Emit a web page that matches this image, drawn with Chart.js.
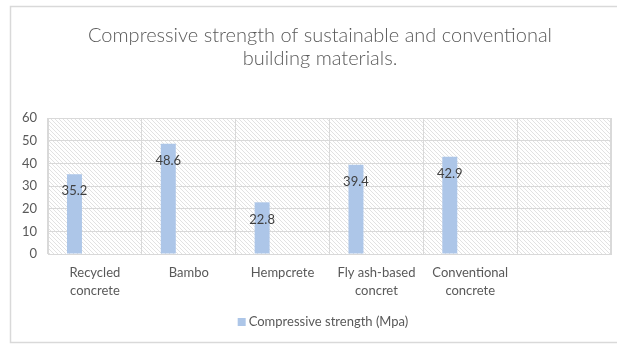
<!DOCTYPE html>
<html>
<head>
<meta charset="utf-8">
<script src="https://cdn.jsdelivr.net/npm/chart.js@4.4.1/dist/chart.umd.min.js"></script>
<style>
  html, body { margin: 0; padding: 0; background: #fff; overflow: hidden; }
  #wrap { position: relative; width: 617px; height: 344px; }
</style>
</head>
<body>
<div id="wrap"><canvas id="strength-chart" width="617" height="344"></canvas></div>
<script>
const titleLines = ["Compressive strength of sustainable and conventional", "building materials."];
const categories = [["Recycled", "concrete"], "Bambo", "Hempcrete", ["Fly ash-based", "concret"], ["Conventional", "concrete"], ""];
const strengthValues = [35.2, 48.6, 22.8, 39.4, 42.9, null];
const seriesName = "Compressive strength (Mpa)";
const yMin = 0;
const yMax = 60;
const yStep = 10;

const textColor = "#595959";
const gridColor = "#d9d9d9";
const barColor = "#adc6e8";

// diagonal hatch used behind the plot area
function makeHatch() {
  const s = 4;
  const c = document.createElement("canvas");
  c.width = s;
  c.height = s;
  const g = c.getContext("2d");
  g.strokeStyle = "#e2e2e2";
  g.lineWidth = 1;
  for (let k = -1; k <= 1; k++) {
    g.beginPath();
    g.moveTo(k * s, 0);
    g.lineTo(k * s + s, s);
    g.stroke();
  }
  return g.createPattern(c, "repeat");
}

const backdrop = {
  id: "backdrop",
  beforeDraw(chart) {
    const { ctx, chartArea: a } = chart;
    ctx.save();
    // outer frame
    ctx.strokeStyle = gridColor;
    ctx.lineWidth = 1.5;
    ctx.strokeRect(10.5, 6.5, 640, 336);
    // plot background
    ctx.fillStyle = makeHatch();
    ctx.fillRect(a.left, a.top, a.right - a.left, a.bottom - a.top);
    ctx.restore();
  },
  afterDraw(chart) {
    const { ctx, chartArea: a } = chart;
    ctx.save();
    ctx.strokeStyle = gridColor;
    ctx.lineWidth = 1;
    ctx.beginPath();
    ctx.moveTo(a.right + 0.5, a.top);
    ctx.lineTo(a.right + 0.5, a.bottom);
    ctx.stroke();

    // title
    ctx.fillStyle = textColor;
    ctx.textAlign = "center";
    ctx.textBaseline = "alphabetic";
    ctx.font = "300 20px Lato";
    ctx.fillText(titleLines[0], 320, 42);
    ctx.fillText(titleLines[1], 320, 65);

    // legend
    ctx.font = "13px Lato";
    const w = ctx.measureText(seriesName).width;
    const x0 = 323 - (w + 11) / 2;
    ctx.fillStyle = barColor;
    ctx.fillRect(x0, 318, 8, 8);
    ctx.fillStyle = textColor;
    ctx.textAlign = "left";
    ctx.textBaseline = "middle";
    ctx.fillText(seriesName, x0 + 11, 322);
    ctx.restore();
  }
};

const valueLabels = {
  id: "valueLabels",
  afterDatasetsDraw(chart) {
    const { ctx } = chart;
    const meta = chart.getDatasetMeta(0);
    ctx.save();
    ctx.fillStyle = "#404040";
    ctx.font = "13px Lato";
    ctx.textAlign = "center";
    ctx.textBaseline = "middle";
    meta.data.forEach((bar, i) => {
      const v = strengthValues[i];
      if (v == null) return;
      ctx.fillText(v.toFixed(1), bar.x, bar.y + 17);
    });
    ctx.restore();
  }
};

new Chart(document.getElementById("strength-chart"), {
  type: "bar",
  data: {
    labels: categories,
    datasets: [
      {
        label: seriesName,
        data: strengthValues,
        backgroundColor: barColor,
        barPercentage: 0.366,
        categoryPercentage: 0.872
      },
      {
        // empty second column slot, keeps the bars left of centre
        label: "",
        data: [],
        backgroundColor: barColor,
        barPercentage: 0.366,
        categoryPercentage: 0.872
      }
    ]
  },
  options: {
    responsive: false,
    animation: false,
    layout: { padding: { left: 0, right: 6, top: 118, bottom: 0 } },
    plugins: {
      legend: { display: false },
      title: { display: false },
      tooltip: { enabled: false }
    },
    scales: {
      x: {
        grid: { color: gridColor, drawTicks: false, offset: true },
        border: { color: gridColor },
        ticks: {
          color: textColor,
          font: { family: "Lato", size: 13, lineHeight: 1.38 },
          padding: 10,
          maxRotation: 0,
          autoSkip: false
        },
        afterFit(scale) { scale.height = 90; }
      },
      y: {
        min: yMin,
        max: yMax,
        grid: { color: gridColor, drawTicks: false },
        border: { color: gridColor },
        ticks: {
          stepSize: yStep,
          color: textColor,
          font: { family: "Lato", size: 13 },
          padding: 11
        },
        afterFit(scale) { scale.width = 48; }
      }
    }
  },
  plugins: [backdrop, valueLabels]
});
</script>
</body>
</html>
